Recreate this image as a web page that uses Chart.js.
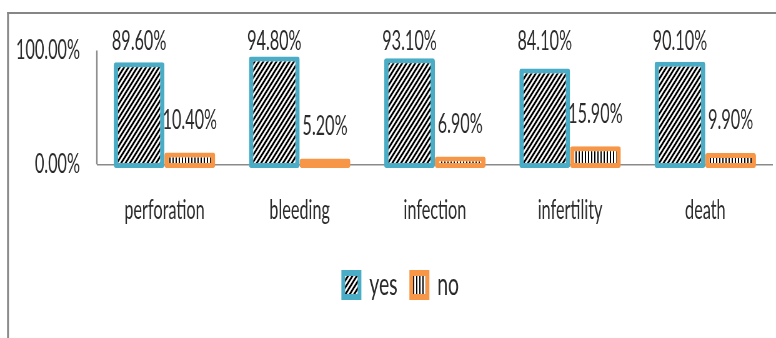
<!DOCTYPE html>
<html>
<head>
<meta charset="utf-8">
<script src="https://cdn.jsdelivr.net/npm/chart.js@4/dist/chart.umd.min.js"></script>
<style>
  html, body { margin: 0; padding: 0; background: #ffffff; overflow: hidden; }
  #wrap { width: 1242px; height: 338px; transform: scaleX(0.62480); transform-origin: 0 0; }
</style>
</head>
<body>
<div id="wrap"><canvas id="c" width="1242" height="338"></canvas></div>
<script>
// ---- data ----
const categories = ['perforation', 'bleeding', 'infection', 'infertility', 'death'];
const seriesNames = ['yes', 'no'];
const yesValues = [89.6, 94.8, 93.1, 84.1, 90.1];
const noValues = [10.4, 5.2, 6.9, 15.9, 9.9];
const yTicks = [0, 100];

// ---- styling ----
const FONT = "Lato, 'Open Sans', sans-serif";
const TEXT = '#2b2b2b';
const AXIS = '#8a8a8a';
const BLUE = '#4bacc6';
const ORANGE = '#f79646';

function diagPattern() {
  const s = 7, t = document.createElement('canvas');
  t.width = s; t.height = s;
  const g = t.getContext('2d');
  g.fillStyle = '#ffffff'; g.fillRect(0, 0, s, s);
  g.strokeStyle = '#000000'; g.lineWidth = 2.6;
  g.beginPath();
  g.moveTo(-1, s + 1); g.lineTo(s + 1, -1);
  g.moveTo(-1, 1); g.lineTo(1, -1);
  g.moveTo(s - 1, s + 1); g.lineTo(s + 1, s - 1);
  g.stroke();
  return g.createPattern(t, 'repeat');
}
function vertPattern() {
  const w = 5, h = 5, t = document.createElement('canvas');
  t.width = w; t.height = h;
  const g = t.getContext('2d');
  g.fillStyle = '#ffffff'; g.fillRect(0, 0, w, h);
  g.fillStyle = '#000000'; g.fillRect(1, 0, 2, h);
  return g.createPattern(t, 'repeat');
}

const framePlugin = {
  id: 'frame',
  beforeDraw(chart) {
    const c = chart.ctx;
    c.save();
    c.strokeStyle = '#868686';
    c.lineWidth = 3;
    c.beginPath(); c.moveTo(12.8, 12); c.lineTo(12.8, chart.height + 2); c.stroke();
    c.lineWidth = 2;
    c.beginPath(); c.moveTo(11.3, 13); c.lineTo(chart.width + 2, 13); c.stroke();
    c.restore();
  }
};

// shift the legend box sideways so that it sits where the reference places it
const legendShiftPlugin = {
  id: 'legendShift',
  afterLayout(chart) {
    const lg = chart.legend;
    if (lg) { lg.left += 23.5; lg.right += 23.5; }
  }
};

const yAxisLinePlugin = {
  id: 'yAxisLine',
  afterDatasetsDraw(chart) {
    const y = chart.scales.y, c = chart.ctx;
    const x = chart.chartArea.left;
    c.save();
    c.strokeStyle = AXIS; c.lineWidth = 2.4;
    c.beginPath();
    c.moveTo(x, y.getPixelForValue(yTicks[yTicks.length - 1]));
    c.lineTo(x, y.getPixelForValue(yTicks[0]));
    c.stroke();
    c.restore();
  }
};

const labelPlugin = {
  id: 'valueLabels',
  afterDatasetsDraw(chart) {
    const c = chart.ctx;
    c.save();
    c.font = '26px ' + FONT;
    c.fillStyle = TEXT;
    c.textAlign = 'center';
    c.textBaseline = 'middle';
    chart.data.datasets.forEach((ds, i) => {
      const meta = chart.getDatasetMeta(i);
      meta.data.forEach((bar, j) => {
        const y = Math.max(bar.y - 32, chart.chartArea.top - 8.5);
        c.fillText(ds.data[j].toFixed(2) + '%', bar.x, y);
      });
    });
    c.restore();
  }
};

new Chart(document.getElementById('c'), {
  type: 'bar',
  data: {
    labels: categories,
    datasets: [
      {
        label: seriesNames[0],
        data: yesValues,
        backgroundColor: diagPattern(),
        borderColor: BLUE,
        borderWidth: { left: 7, right: 7, top: 5, bottom: 5 },
        borderRadius: 3,
        borderSkipped: false,
        base: -3.2
      },
      {
        label: seriesNames[1],
        data: noValues,
        backgroundColor: vertPattern(),
        borderColor: ORANGE,
        borderWidth: { left: 7, right: 7, top: 5, bottom: 5 },
        borderRadius: 3,
        borderSkipped: false,
        base: -3.2
      }
    ]
  },
  options: {
    responsive: false,
    animation: false,
    devicePixelRatio: 1,
    layout: { padding: { left: 0, right: 5, top: 50.5, bottom: 27.5 } },
    datasets: { bar: { categoryPercentage: 0.75, barPercentage: 1.0 } },
    scales: {
      x: {
        grid: { display: false, drawTicks: false },
        border: { display: false },
        ticks: { font: { family: FONT, size: 26 }, color: TEXT, padding: 27 },
        afterFit(s) { s.height = 79.5; }
      },
      y: {
        min: -3.2,
        max: 100,
        afterBuildTicks(s) { s.ticks = yTicks.map(v => ({ value: v })); },
        grid: {
          drawTicks: false,
          lineWidth: 1.5,
          color: (ctx) => (ctx.tick && ctx.tick.value === 0 ? AXIS : 'rgba(0,0,0,0)')
        },
        border: { display: false },
        ticks: {
          font: { family: FONT, size: 26 },
          color: TEXT,
          padding: 27,
          callback: (v) => Number(v).toFixed(2) + '%'
        },
        afterFit(s) { s.width = 155; }
      }
    },
    plugins: {
      legend: {
        position: 'bottom',
        labels: {
          font: { family: FONT, size: 31 },
          color: TEXT,
          boxWidth: 26,
          boxHeight: 24,
          padding: 22
        }
      },
      tooltip: { enabled: false },
      title: { display: false }
    }
  },
  plugins: [framePlugin, legendShiftPlugin, yAxisLinePlugin, labelPlugin]
});
</script>
</body>
</html>
